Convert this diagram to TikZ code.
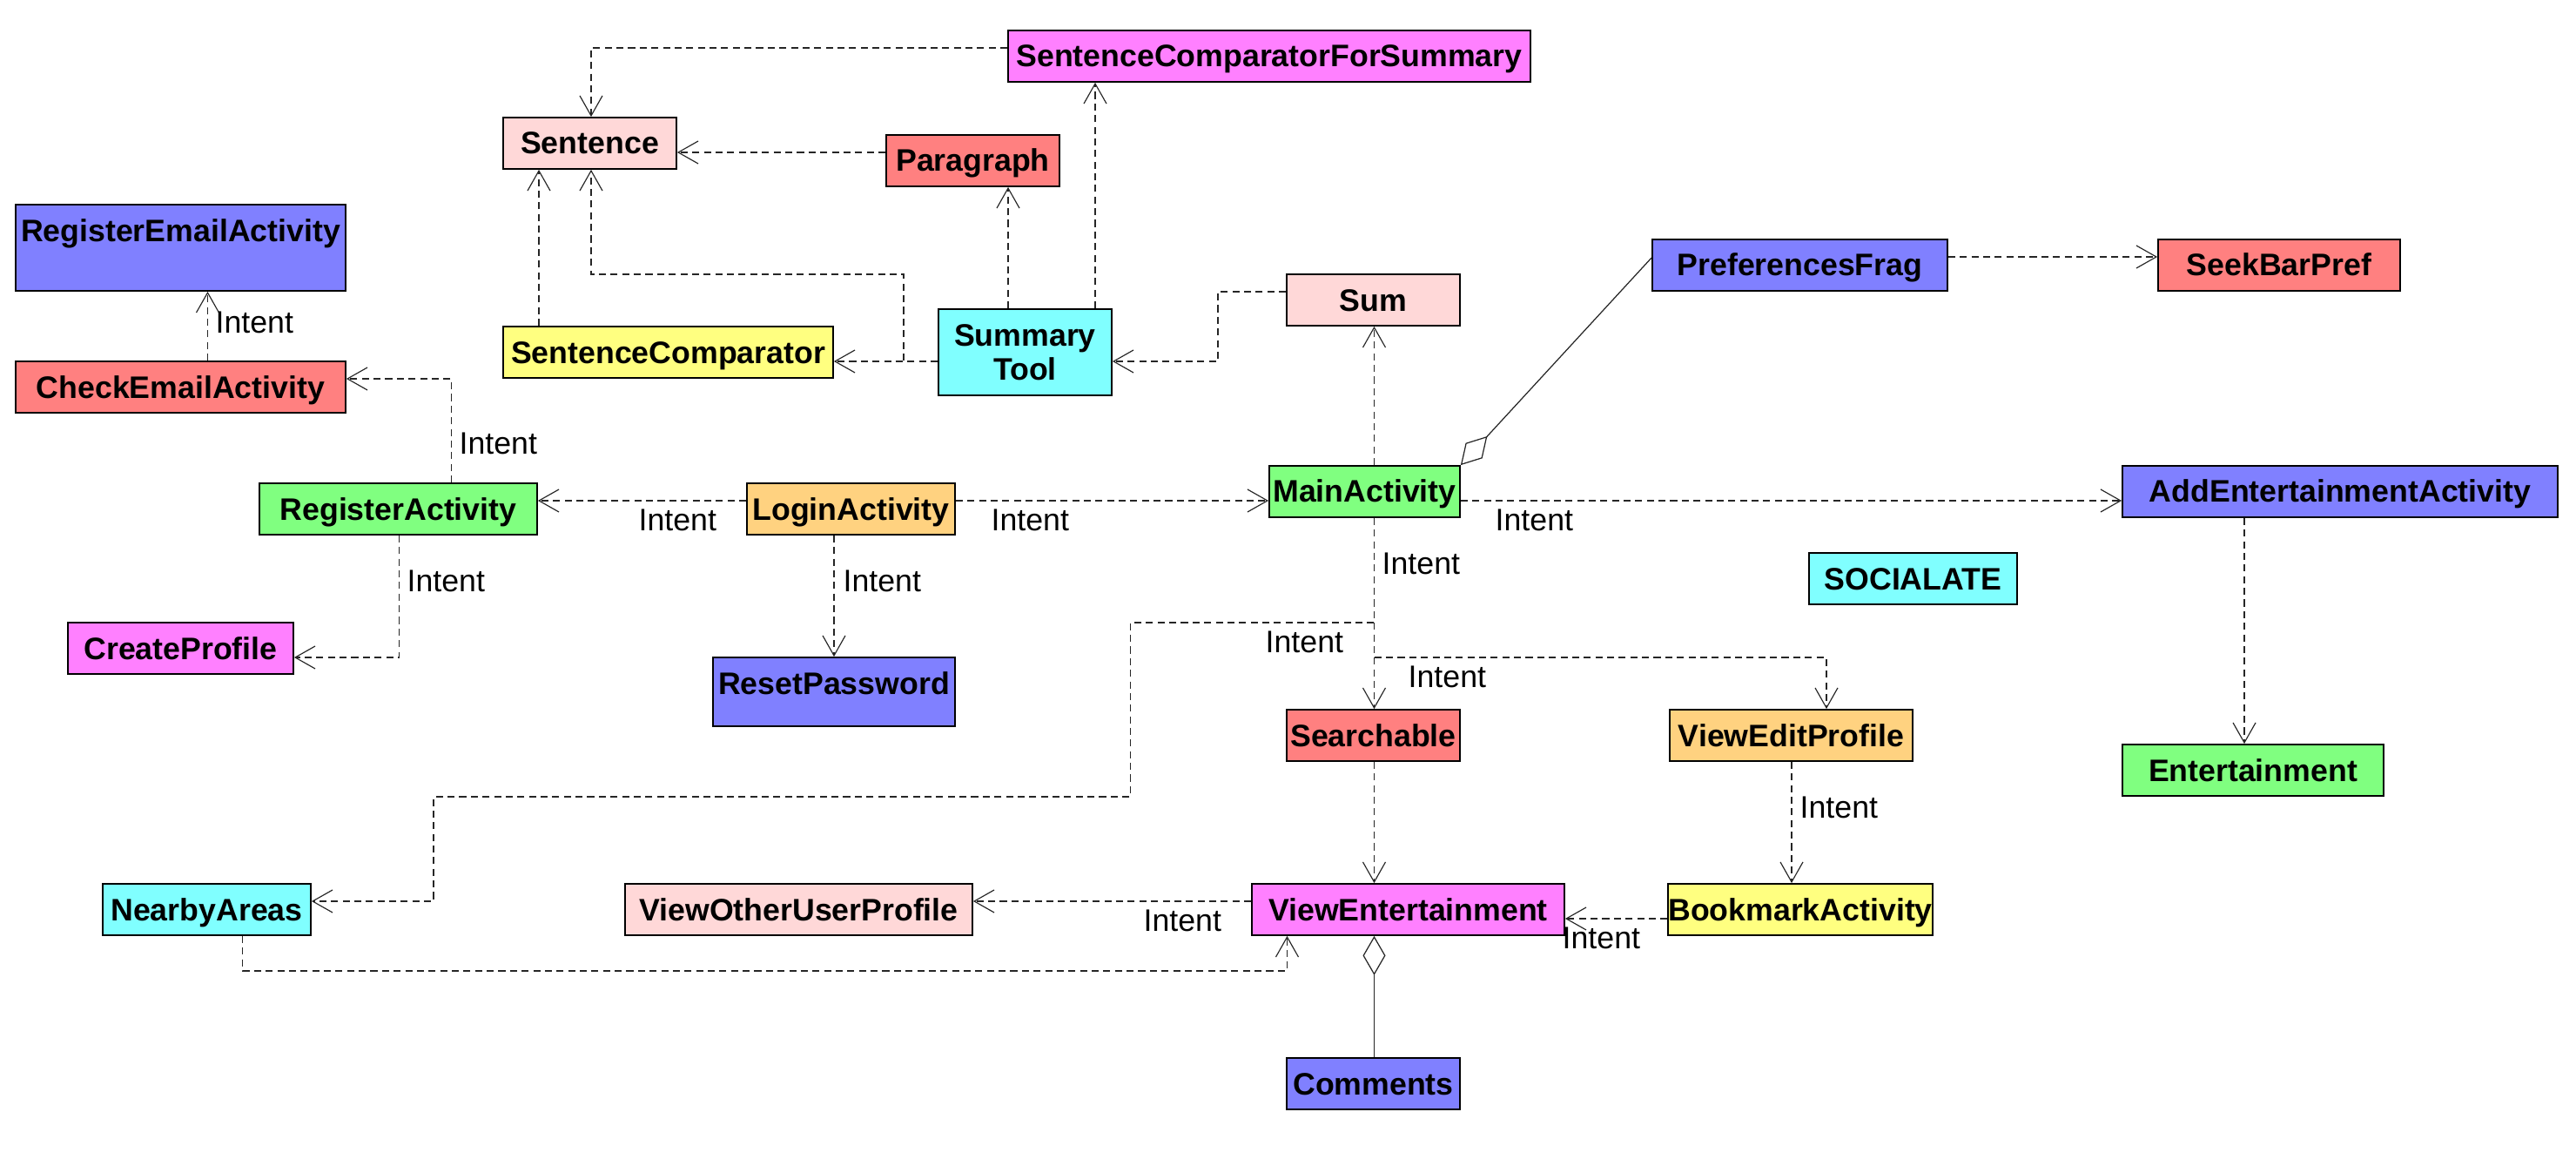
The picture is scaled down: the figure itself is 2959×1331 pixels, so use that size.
\documentclass[tikz,border=0pt]{standalone}
\usepackage{fontspec}
\setmainfont{Liberation Sans}
\usetikzlibrary{arrows.meta}
\definecolor{cBlue}{HTML}{8080FF}
\definecolor{cSalmon}{HTML}{FF8080}
\definecolor{cPink}{HTML}{FFD8D8}
\definecolor{cMagenta}{HTML}{FF80FF}
\definecolor{cYellow}{HTML}{FFFF80}
\definecolor{cCyan}{HTML}{80FFFF}
\definecolor{cGreen}{HTML}{80FF80}
\definecolor{cOrange}{HTML}{FFD280}
\tikzset{
  boxfont/.style={font=\bfseries\fontsize{10.15pt}{11.1pt}\selectfont},
  box/.style={draw=black, line width=0.5pt, rectangle, inner sep=0pt, boxfont, align=center},
  oneline/.style={text height=0.25cm, text depth=0pt},
  dep/.style={draw=black!85, line width=0.33pt, dash pattern=on 2.3pt off 1.5pt,
    -{Straight Barb[length=0.23cm,width=0.26cm,line width=0.33pt]}},
  agg/.style={draw=black!85, line width=0.35pt,
    {Diamond[open,length=0.45cm,width=0.26cm,line width=0.35pt]}-},
  lbl/.style={font=\fontsize{10.15pt}{11.1pt}\selectfont, anchor=west, inner sep=0pt,
    text height=0.25cm, text depth=0pt},
}
\newcommand\umlbox[7]{\node[box, oneline, fill=#6, minimum width={0.01cm*(#4-#2)},
  minimum height={0.01cm*(#5-#3)}] (#1) at ({(#2+#4)/2},{(#3+#5)/2}) {#7};}
\newcommand\umltopbox[7]{\node[box, fill=#6, minimum width={0.01cm*(#4-#2)},
  minimum height={0.01cm*(#5-#3)},
  label={[boxfont, anchor=center, yshift=-0.305cm, inner sep=0pt, text height=0.25cm, text depth=0pt]north:#7}]
  (#1) at ({(#2+#4)/2},{(#3+#5)/2}) {};}
\begin{document}
\begin{tikzpicture}[x=0.01cm,y=-0.01cm]
\useasboundingbox (0,0) rectangle (2959,1331);
% boxes
\umlbox{scfs}{1158}{35}{1758}{94}{cMagenta}{SentenceComparatorForSummary}
\umlbox{sent}{578}{135}{777}{194}{cPink}{Sentence}
\umlbox{para}{1018}{155}{1217}{214}{cSalmon}{Paragraph}
\umltopbox{rea}{18}{235}{397}{334}{cBlue}{RegisterEmailActivity}
\umlbox{sc}{578}{375}{957}{434}{cYellow}{SentenceComparator}
\node[box, fill=cCyan, minimum width={0.01cm*199}, minimum height={0.01cm*99}] (st) at (1177.5,404.5) {Summary\\Tool};
\umlbox{sum}{1478}{315}{1677}{374}{cPink}{Sum}
\umlbox{pref}{1898}{275}{2237}{334}{cBlue}{PreferencesFrag}
\umlbox{seek}{2479}{275}{2757}{334}{cSalmon}{SeekBarPref}
\umlbox{cea}{18}{415}{397}{474}{cSalmon}{CheckEmailActivity}
\umlbox{ra}{298}{555}{617}{614}{cGreen}{RegisterActivity}
\umlbox{la}{858}{555}{1097}{614}{cOrange}{LoginActivity}
\umlbox{main}{1458}{535}{1677}{594}{cGreen}{MainActivity}
\umlbox{aea}{2438}{535}{2938}{594}{cBlue}{AddEntertainmentActivity}
\umlbox{soc}{2078}{635}{2317}{694}{cCyan}{SOCIALATE}
\umlbox{cp}{78}{715}{337}{774}{cMagenta}{CreateProfile}
\umltopbox{rp}{819}{755}{1097}{834}{cBlue}{ResetPassword}
\umlbox{srch}{1478}{815}{1677}{874}{cSalmon}{Searchable}
\umlbox{vep}{1918}{815}{2197}{874}{cOrange}{ViewEditProfile}
\umlbox{ent}{2438}{855}{2738}{914}{cGreen}{Entertainment}
\umlbox{na}{118}{1015}{357}{1074}{cCyan}{NearbyAreas}
\umlbox{vou}{718}{1015}{1117}{1074}{cPink}{ViewOtherUserProfile}
\umlbox{ve}{1438}{1015}{1797}{1074}{cMagenta}{ViewEntertainment}
\umlbox{ba}{1918}{1015}{2218}{1074}{cYellow}{BookmarkActivity}
\umlbox{com}{1478}{1215}{1677}{1274}{cBlue}{Comments}
% connectors
\draw[dep] (scfs.west |- 0,55) -- (679,55) -- (679,0 |- sent.north);
\draw[dep] (para.west |- 0,175) -- (sent.east |- 0,175);
\draw[dep] (1158,0 |- st.north) -- (1158,0 |- para.south);
\draw[dep] (1258,0 |- st.north) -- (1258,0 |- scfs.south);
\draw[dep] (st.west |- 0,415) -- (1038,415) -- (1038,315) -- (679,315) -- (679,0 |- sent.south);
\draw[dep] (st.west |- 0,415) -- (sc.east |- 0,415);
\draw[dep] (619,0 |- sc.north) -- (619,0 |- sent.south);
\draw[dep] (sum.west |- 0,335) -- (1399,335) -- (1399,415) -- (st.east |- 0,415);
\draw[dep] (1578.5,0 |- main.north) -- (1578.5,0 |- sum.south);
\draw[dep] (pref.east |- 0,295) -- (seek.west |- 0,295);
\draw[agg] (main.north east) -- (pref.west |- 0,296);
\draw[dep] (238.5,0 |- cea.north) -- (238.5,0 |- rea.south);
\draw[dep] (518.5,0 |- ra.north) -- (518.5,435) -- (cea.east |- 0,435);
\draw[dep] (la.west |- 0,575) -- (ra.east |- 0,575);
\draw[dep] (458.5,0 |- ra.south) -- (458.5,755) -- (cp.east |- 0,755);
\draw[dep] (958,0 |- la.south) -- (958,0 |- rp.north);
\draw[dep] (la.east |- 0,575) -- (main.west |- 0,575);
\draw[dep] (main.east |- 0,575) -- (aea.west |- 0,575);
\draw[dep] (1578.5,0 |- main.south) -- (1578.5,0 |- srch.north);
\draw[dep] (1578.5,0 |- main.south) -- (1578.5,715) -- (1298.5,715) -- (1298.5,915) -- (498,915) -- (498,1035) -- (na.east |- 0,1035);
\draw[dep] (1578.5,0 |- main.south) -- (1578.5,755) -- (2098,755) -- (2098,0 |- vep.north);
\draw[dep] (2578,0 |- aea.south) -- (2578,0 |- ent.north);
\draw[dep] (1578.5,0 |- srch.south) -- (1578.5,0 |- ve.north);
\draw[dep] (2058,0 |- vep.south) -- (2058,0 |- ba.north);
\draw[dep] (ba.west |- 0,1055) -- (ve.east |- 0,1055);
\draw[dep] (ve.west |- 0,1035) -- (vou.east |- 0,1035);
\draw[dep] (278.5,0 |- na.south) -- (278.5,1115) -- (1478.5,1115) -- (1478.5,0 |- ve.south);
\draw[agg] (1578.5,0 |- ve.south) -- (1578.5,0 |- com.north);
% labels
\node[lbl] (l1) at (247,370) {Intent};
\node[lbl] (l2) at (527,509) {Intent};
\node[lbl] (l3) at (733,597) {Intent};
\node[lbl] (l4) at (467,667) {Intent};
\node[lbl] (l5) at (968,667) {Intent};
\node[lbl] (l6) at (1138,597) {Intent};
\node[lbl] (l7) at (1717,597) {Intent};
\node[lbl] (l8) at (1587,647) {Intent};
\node[lbl] (l9) at (1453,737) {Intent};
\node[lbl] (l10) at (1617,777) {Intent};
\node[lbl] (l11) at (2067,927) {Intent};
\node[lbl] (l12) at (1794,1077) {Intent};
\node[lbl] (l13) at (1313,1057) {Intent};
\end{tikzpicture}
\end{document}
